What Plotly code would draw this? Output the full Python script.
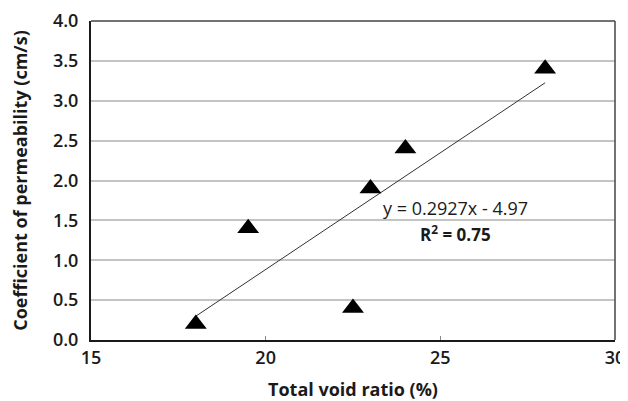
import plotly.graph_objects as go

void_ratio = [18, 19.5, 22.5, 23, 24, 28]
permeability = [0.2, 1.4, 0.4, 1.9, 2.4, 3.4]
slope = 0.2927
intercept = -4.97
fit_x = [min(void_ratio), max(void_ratio)]
fit_y = [slope * v + intercept for v in fit_x]

x_ticks = [15, 20, 25, 30]
y_ticks = [0.0, 0.5, 1.0, 1.5, 2.0, 2.5, 3.0, 3.5, 4.0]

font_family = "Open Sans, DejaVu Sans, sans-serif"
ink = "#1a1a1a"

fig = go.Figure()
fig.add_trace(go.Scatter(
    x=fit_x, y=fit_y, mode="lines",
    line=dict(color="#333333", width=1), showlegend=False, hoverinfo="skip"))
fig.add_trace(go.Scatter(
    x=void_ratio, y=permeability, mode="markers",
    marker=dict(symbol="triangle-up", size=19, color="black"),
    showlegend=False))

fig.add_annotation(x=25.43, y=1.66, text="y = 0.2927x - 4.97", showarrow=False,
                   font=dict(family=font_family, size=18, color=ink, weight=500))
fig.add_annotation(x=25.43, y=1.33, text="<b>R<sup>2</sup> = 0.75</b>", showarrow=False,
                   font=dict(family=font_family, size=17, color=ink))

# the page body adds an 8px offset, so the figure is sized to fit the 628x401 window
fig.update_layout(
    width=620, height=393,
    margin=dict(l=83, r=13, t=13, b=61),
    paper_bgcolor="white", plot_bgcolor="white",
    font=dict(family=font_family, color=ink),
    xaxis=dict(
        range=[15, 30], tickvals=x_ticks, ticktext=[str(t) for t in x_ticks],
        showgrid=False, zeroline=False, automargin=False,
        showline=True, linecolor=ink, linewidth=2, mirror=False,
        ticks="inside", ticklen=4, tickcolor="#888888",
        tickfont=dict(size=18, family=font_family, color=ink, weight=600),
        title=dict(text="<b>Total void ratio (%)</b>", standoff=18,
                   font=dict(size=18, family=font_family, color=ink)),
    ),
    yaxis=dict(
        range=[0, 4], tickvals=y_ticks, ticktext=[f"{t:.1f}" for t in y_ticks],
        showgrid=True, gridcolor="#c4c4c4", gridwidth=1.5, zeroline=False,
        showline=True, linecolor=ink, linewidth=2, mirror=False, automargin=False,
        ticks="", ticklabelstandoff=7,
        tickfont=dict(size=18, family=font_family, color=ink, weight=600),
        title=dict(text="<b>Coefficient of permeability (cm/s)</b>", standoff=21,
                   font=dict(size=18, family=font_family, color=ink)),
    ),
)
# top and right frame
fig.add_shape(type="line", xref="paper", yref="paper", x0=0, x1=1, y0=1, y1=1,
              line=dict(color="#444444", width=1.5))
fig.add_shape(type="line", xref="paper", yref="paper", x0=1, x1=1, y0=0, y1=1,
              line=dict(color="#444444", width=1.5))

fig.write_html("out.html")
